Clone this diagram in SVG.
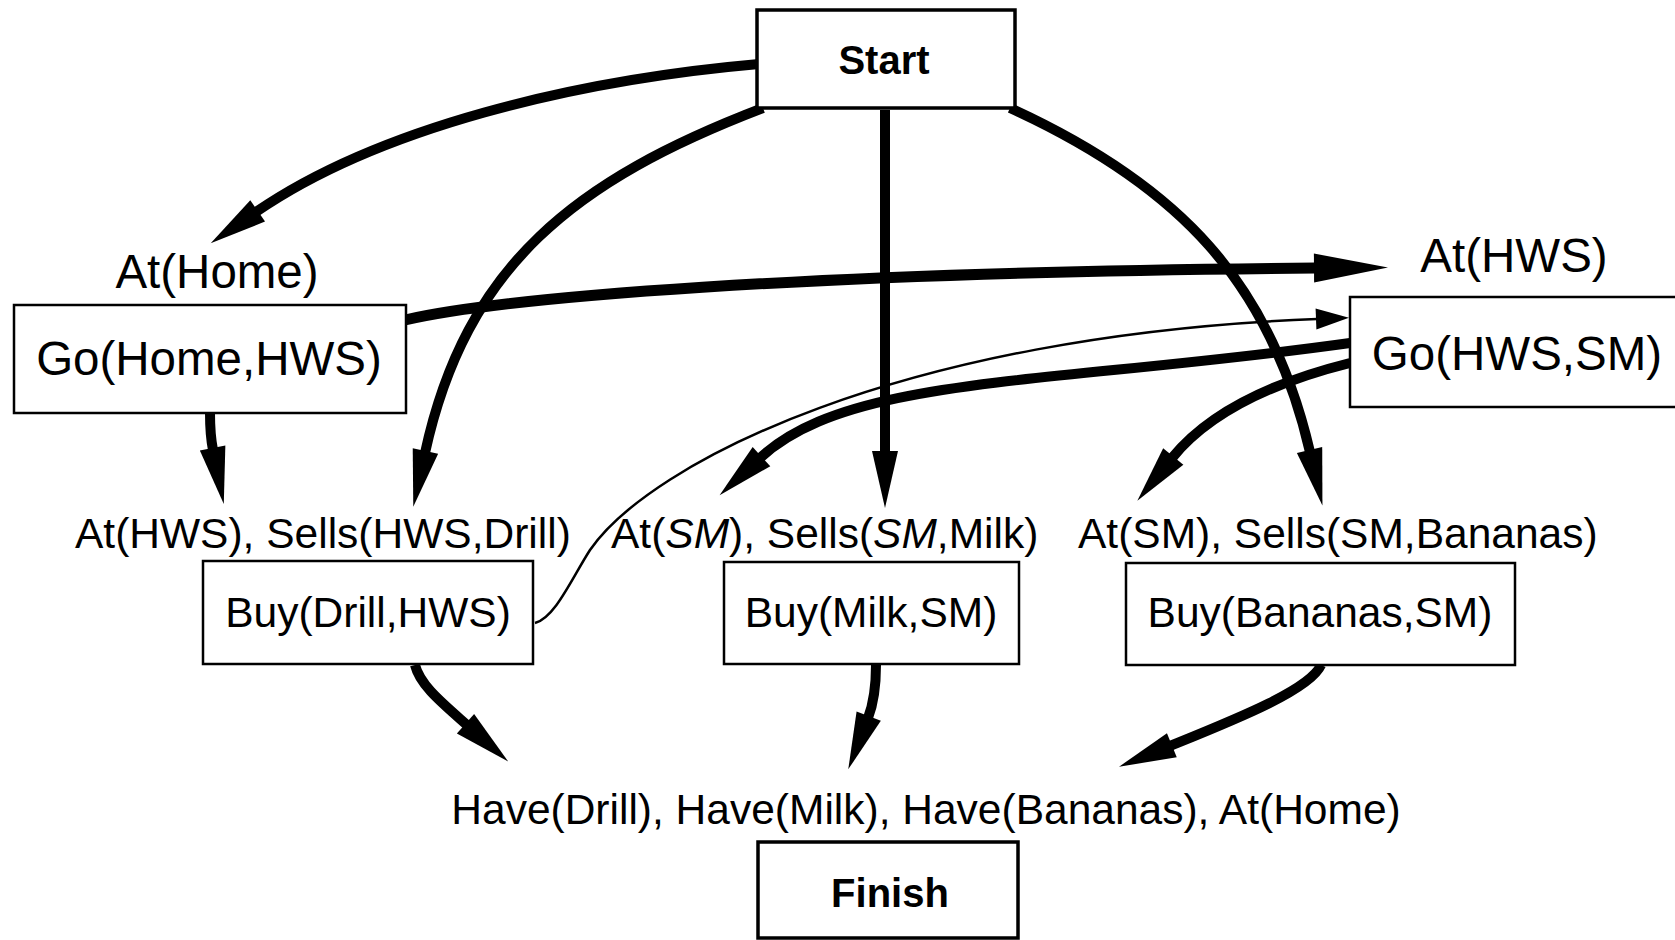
<svg xmlns="http://www.w3.org/2000/svg" width="1675" height="940" viewBox="0 0 1675 940">
  <style>
    .box { fill: #fff; stroke: #000; stroke-width: 2.5; }
    .box-main { fill: #fff; stroke: #000; stroke-width: 3.5; }
    .big { font-family: "Liberation Sans", Arial, sans-serif; font-size: 47.5px; fill: #000; }
    .small { font-family: "Liberation Sans", Arial, sans-serif; font-size: 42.5px; fill: #000; }
    .bold { font-family: "Liberation Sans", Arial, sans-serif; font-size: 40px; font-weight: bold; fill: #000; }
    .thick { fill: none; stroke: #000; stroke-width: 10; marker-end: url(#head); }
    .thin { fill: none; stroke: #000; stroke-width: 2.5; marker-end: url(#head-thin); }
  </style>
  <defs>
    <marker id="head" markerUnits="userSpaceOnUse" markerWidth="64" markerHeight="32" refX="2" refY="14" orient="auto" overflow="visible">
      <path d="M0,1 L57,14 L0,27 z" fill="#000"/>
    </marker>
    <marker id="head-big" markerUnits="userSpaceOnUse" markerWidth="80" markerHeight="34" refX="2" refY="15" orient="auto" overflow="visible">
      <path d="M0,0.5 L74,15 L0,29.5 z" fill="#000"/>
    </marker>
    <marker id="head-thin" markerUnits="userSpaceOnUse" markerWidth="40" markerHeight="24" refX="1" refY="11" orient="auto" overflow="visible">
      <path d="M0,0.5 L33,11 L0,21.5 z" fill="#000"/>
    </marker>
  </defs>

  <rect width="1675" height="940" fill="#fff"/>

  <!-- causal links and ordering arrows -->
  <g id="connectors">
    <!-- Start -> At(Home) -->
    <path class="thick" d="M759,64 C575,80 378,128 256,212"/>
    <!-- Start -> At(HWS) of Buy(Drill,HWS) -->
    <path class="thick" d="M763,108 C575,180 466,265 425,453"/>
    <!-- Start -> Sells(SM,Milk) -->
    <path class="thick" d="M885,110 L885,453"/>
    <!-- Start -> Sells(SM,Bananas) -->
    <path class="thick" d="M1010,108 C1181,186 1271,284 1310,452"/>
    <!-- Go(Home,HWS) -> At(HWS) -->
    <path fill="none" stroke="#000" stroke-width="11" marker-end="url(#head-big)" d="M405,320 C500,298 800,272 1316,268"/>
    <!-- Go(Home,HWS) -> At(HWS) of Buy(Drill,HWS) -->
    <path class="thick" d="M210,413 C210,430 211,440 213,450"/>
    <!-- Buy(Drill,HWS) -> Go(HWS,SM) ordering -->
    <path class="thin" d="M535,623 C555,618 572,578 590,550 C650,463 900,335 1317,319"/>
    <!-- Go(HWS,SM) -> At(SM) for milk -->
    <path class="thick" d="M1350,343 C1050,385 850,375 760,458"/>
    <!-- Go(HWS,SM) -> At(SM) for bananas -->
    <path class="thick" d="M1350,363 C1290,378 1215,405 1172,458"/>
    <!-- Buy actions -> Finish preconditions -->
    <path class="thick" d="M415,665 C420,685 441,702 467,725"/>
    <path class="thick" d="M876,665 C876,690 873,705 868,718"/>
    <path class="thick" d="M1321,665 C1310,690 1234,720 1170,746"/>
  </g>

  <g id="start">
    <rect class="box-main" x="757" y="10" width="258" height="98"/>
    <text class="bold" x="884" y="74" text-anchor="middle">Start</text>
  </g>

  <g id="go-home-hws">
    <text class="big" x="217" y="288" text-anchor="middle">At(Home)</text>
    <rect class="box" x="14" y="305" width="392" height="108"/>
    <text class="big" x="209" y="375" text-anchor="middle">Go(Home,HWS)</text>
  </g>

  <g id="go-hws-sm">
    <text class="big" x="1514" y="272" text-anchor="middle">At(HWS)</text>
    <rect class="box" x="1350" y="297" width="340" height="110"/>
    <text class="big" x="1517" y="370" text-anchor="middle">Go(HWS,SM)</text>
  </g>

  <g id="buy-drill">
    <text class="small" x="75" y="548">At(HWS), Sells(HWS,Drill)</text>
    <rect class="box" x="203" y="561" width="330" height="103"/>
    <text class="small" x="368" y="627" text-anchor="middle">Buy(Drill,HWS)</text>
  </g>

  <g id="buy-milk">
    <text class="small" x="611" y="548">At(<tspan font-style="italic">SM</tspan>), Sells(<tspan font-style="italic">SM</tspan>,Milk)</text>
    <rect class="box" x="724" y="562" width="295" height="102"/>
    <text class="small" x="871" y="627" text-anchor="middle">Buy(Milk,SM)</text>
  </g>

  <g id="buy-bananas">
    <text class="small" x="1078" y="548">At(SM), Sells(SM,Bananas)</text>
    <rect class="box" x="1126" y="563" width="389" height="102"/>
    <text class="small" x="1320" y="627" text-anchor="middle">Buy(Bananas,SM)</text>
  </g>

  <g id="finish">
    <text class="small" x="926" y="824" text-anchor="middle">Have(Drill), Have(Milk), Have(Bananas), At(Home)</text>
    <rect class="box-main" x="758" y="842" width="260" height="96"/>
    <text class="bold" x="890" y="907" text-anchor="middle">Finish</text>
  </g>
</svg>
